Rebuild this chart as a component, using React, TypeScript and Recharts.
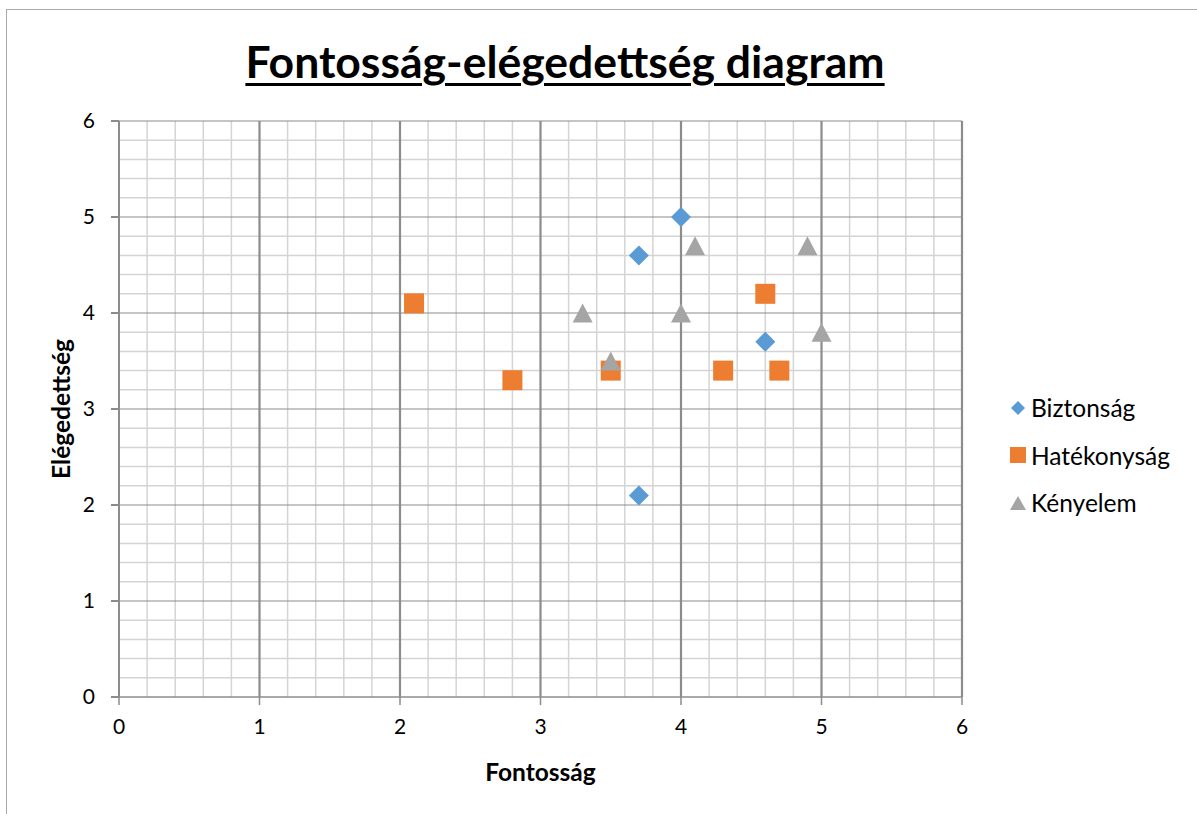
import React from 'react'
import {
  ScatterChart, Scatter, XAxis, YAxis, ReferenceLine, Legend,
} from 'recharts'

const TITLE = 'Fontosság-elégedettség diagram'
const X_LABEL = 'Fontosság'
const Y_LABEL = 'Elégedettség'

const AXIS_TICKS = [0, 1, 2, 3, 4, 5, 6]
const MAJOR_LINES = [1, 2, 3, 4, 5, 6]
const MINOR_LINES = [
  0.2, 0.4, 0.6, 0.8, 1.2, 1.4, 1.6, 1.8, 2.2, 2.4, 2.6, 2.8,
  3.2, 3.4, 3.6, 3.8, 4.2, 4.4, 4.6, 4.8, 5.2, 5.4, 5.6, 5.8,
]

const biztonsagX = [4.0, 3.7, 4.6, 3.7]
const biztonsagY = [5.0, 4.6, 3.7, 2.1]

const hatekonysagX = [2.1, 2.8, 3.5, 4.6, 4.3, 4.7]
const hatekonysagY = [4.1, 3.3, 3.4, 4.2, 3.4, 3.4]

const kenyelemX = [3.3, 3.5, 4.0, 4.1, 4.9, 5.0]
const kenyelemY = [4.0, 3.5, 4.0, 4.7, 4.7, 3.8]

const BLUE = '#5B9BD5'
const ORANGE = '#ED7D31'
const GRAY = '#A5A5A5'
const FONT = 'Lato, Carlito, Calibri, sans-serif'

const toPoints = (xs: number[], ys: number[]) => xs.map((x, i) => ({ x, y: ys[i] }))

function Diamond(p: any) {
  const { cx, cy } = p
  return <path d={`M${cx},${cy - 10}L${cx + 10},${cy}L${cx},${cy + 10}L${cx - 10},${cy}Z`} fill={BLUE} />
}
function Square(p: any) {
  const { cx, cy } = p
  return <rect x={cx - 10} y={cy - 10} width={20} height={20} fill={ORANGE} />
}
function Triangle(p: any) {
  const { cx, cy } = p
  return <path d={`M${cx},${cy - 9.5}L${cx + 10},${cy + 9.5}L${cx - 10},${cy + 9.5}Z`} fill={GRAY} />
}

const LEGEND_ITEMS = [
  { name: 'Biztonság', marker: 'diamond', color: BLUE },
  { name: 'Hatékonyság', marker: 'square', color: ORANGE },
  { name: 'Kényelem', marker: 'triangle', color: GRAY },
]

function LegendContent() {
  return (
    <div style={{ fontFamily: FONT, fontSize: 24.5, color: '#000' }}>
      {LEGEND_ITEMS.map(item => (
        <div key={item.name} style={{ display: 'flex', alignItems: 'center', height: 47.5 }}>
          <svg width={18} height={18} style={{ marginRight: 4 }}>
            {item.marker === 'diamond' && <path d="M9,2L16,9L9,16L2,9Z" fill={item.color} />}
            {item.marker === 'square' && <rect x={1} y={1} width={16} height={16} fill={item.color} />}
            {item.marker === 'triangle' && <path d="M9,2L17,16L1,16Z" fill={item.color} />}
          </svg>
          <span>{item.name}</span>
        </div>
      ))}
    </div>
  )
}

export default function App() {
  return (
    <div style={{ position: 'fixed', left: 0, top: 0, width: 1197, height: 814, background: '#fff', overflow: 'hidden' }}>
      <div style={{
        position: 'absolute', left: 6, top: 9, right: -10, bottom: -10,
        borderLeft: '1.5px solid #A9A9A9', borderTop: '1.5px solid #A9A9A9',
      }} />
      <div style={{
        position: 'absolute', left: 0, width: 1130, top: 34, textAlign: 'center',
        fontFamily: FONT, fontWeight: 700, fontSize: 44.5, textDecoration: 'underline',
        textDecorationThickness: 2.5, textUnderlineOffset: 5, color: '#000',
      }}>
        {TITLE}
      </div>
      <ScatterChart
        width={1197}
        height={814}
        margin={{ top: 121, right: 235, bottom: 87, left: 39 }}
        style={{ position: 'absolute', left: 0, top: 0 }}
      >
        {MINOR_LINES.map(v => (
          <ReferenceLine key={'mx' + v} x={v} stroke="#D4D4D4" strokeWidth={1.5} />
        ))}
        {MINOR_LINES.map(v => (
          <ReferenceLine key={'my' + v} y={v} stroke="#D4D4D4" strokeWidth={1.5} />
        ))}
        {MAJOR_LINES.map(v => (
          <ReferenceLine key={'My' + v} y={v} stroke="#8C8C8C" strokeWidth={1.2} />
        ))}
        {MAJOR_LINES.map(v => (
          <ReferenceLine key={'Mx' + v} x={v} stroke="#8C8C8C" strokeWidth={2.2} />
        ))}
        <XAxis
          type="number"
          dataKey="x"
          domain={[0, 6]}
          ticks={AXIS_TICKS}
          interval={0}
          height={30}
          tickSize={8}
          tickMargin={14}
          stroke="#8C8C8C"
          strokeWidth={1.5}
          tick={{ fill: '#000', fontSize: 21, fontFamily: FONT }}
          label={{ value: X_LABEL, position: 'insideBottom', offset: -54, fill: '#000', fontSize: 24.5, fontWeight: 700, fontFamily: FONT }}
        />
        <YAxis
          type="number"
          dataKey="y"
          domain={[0, 6]}
          ticks={AXIS_TICKS}
          interval={0}
          width={80}
          tickSize={8}
          tickMargin={16}
          stroke="#8C8C8C"
          strokeWidth={2}
          tick={{ fill: '#000', fontSize: 21, fontFamily: FONT }}
          label={{ value: Y_LABEL, angle: -90, position: 'insideLeft', offset: 22, style: { textAnchor: 'middle' }, fill: '#000', fontSize: 24.5, fontWeight: 700, fontFamily: FONT }}
        />
        <Legend
          layout="vertical"
          align="center"
          verticalAlign="middle"
          content={<LegendContent />}
          wrapperStyle={{ left: 1009, top: 384, width: 188 }}
        />
        <Scatter name="Biztonság" data={toPoints(biztonsagX, biztonsagY)} shape={<Diamond />} isAnimationActive={false} />
        <Scatter name="Hatékonyság" data={toPoints(hatekonysagX, hatekonysagY)} shape={<Square />} isAnimationActive={false} />
        <Scatter name="Kényelem" data={toPoints(kenyelemX, kenyelemY)} shape={<Triangle />} isAnimationActive={false} />
      </ScatterChart>
    </div>
  )
}
